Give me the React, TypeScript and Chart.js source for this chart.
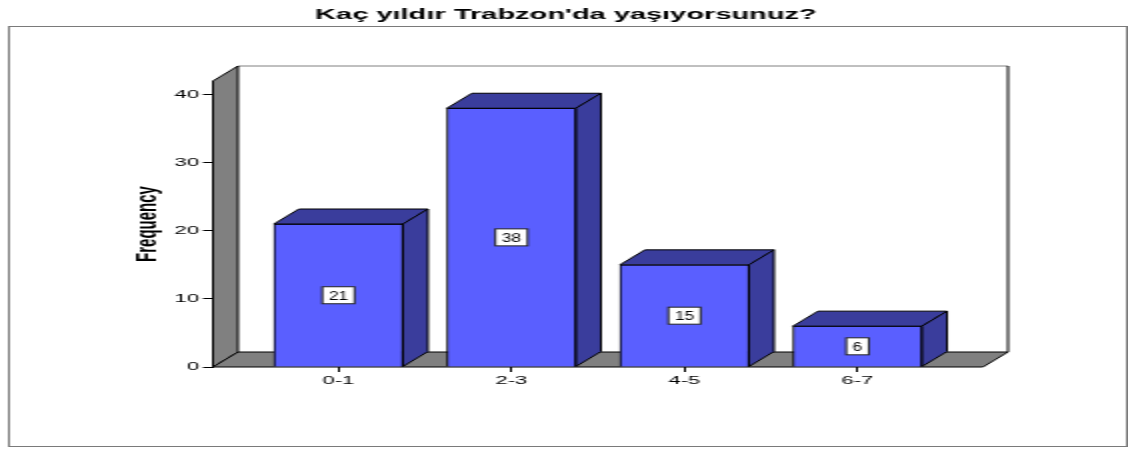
import React, { useEffect, useRef } from "react";
import { Chart, registerables } from "chart.js";

Chart.register(...registerables);

// ---- data ----
const categories = ["0-1", "2-3", "4-5", "6-7"];
const frequencies = [21, 38, 15, 6];
const yTickValues = [0, 10, 20, 30, 40];
const chartTitle = "Kaç yıldır Trabzon'da yaşıyorsunuz?";
const yAxisTitle = "Frequency";

// ---- style ----
const W = 564; // drawn at half width, then stretched 2x horizontally (like the original)
const H = 449;
const DX = 12.5;
const DY = 15;
const FRONT = "#5A5FFF";
const SIDE = "#3A3D9C";
const WALL = "#808080";
const FONT = "'Liberation Sans', Arial, Helvetica, sans-serif";
const SQUEEZE = 0.72;

const spss3d = {
  id: "spss3d",
  beforeDraw(chart: any) {
    const ctx = chart.ctx;
    ctx.save();
    ctx.fillStyle = "#fff";
    ctx.fillRect(0, 0, chart.width, chart.height);
    // outer frame
    ctx.strokeStyle = "#7a7a7a";
    ctx.lineWidth = 1;
    ctx.strokeRect(4.5, 26.5, 559, 420);
    // title
    ctx.fillStyle = "#000";
    ctx.font = `bold 14.5px ${FONT}`;
    ctx.textAlign = "center";
    ctx.textBaseline = "alphabetic";
    ctx.fillText(chartTitle, 283, 19);
    ctx.restore();
  },
  beforeDatasetsDraw(chart: any) {
    const ctx = chart.ctx;
    const { left, right, top, bottom } = chart.chartArea;
    ctx.save();
    ctx.lineWidth = 1;
    // back wall
    ctx.fillStyle = "#fff";
    ctx.fillRect(left + DX, top - DY, right - left, bottom - top);
    ctx.strokeStyle = WALL;
    ctx.beginPath();
    ctx.moveTo(left + DX, top - DY);
    ctx.lineTo(right + DX, top - DY);
    ctx.stroke();
    ctx.strokeStyle = "#000";
    ctx.beginPath();
    ctx.moveTo(right + DX, top - DY);
    ctx.lineTo(right + DX, bottom - DY);
    ctx.stroke();
    // left wall
    ctx.fillStyle = WALL;
    ctx.strokeStyle = "#000";
    ctx.beginPath();
    ctx.moveTo(left, bottom);
    ctx.lineTo(left + DX, bottom - DY);
    ctx.lineTo(left + DX, top - DY);
    ctx.lineTo(left, top);
    ctx.closePath();
    ctx.fill();
    ctx.stroke();
    // floor
    ctx.beginPath();
    ctx.moveTo(left, bottom);
    ctx.lineTo(right, bottom);
    ctx.lineTo(right + DX, bottom - DY);
    ctx.lineTo(left + DX, bottom - DY);
    ctx.closePath();
    ctx.fill();
    ctx.stroke();
    ctx.restore();
  },
  afterDatasetsDraw(chart: any) {
    const ctx = chart.ctx;
    const meta = chart.getDatasetMeta(0);
    ctx.save();
    ctx.lineWidth = 1;
    ctx.strokeStyle = "#000";
    meta.data.forEach((el: any, i: number) => {
      const { x, y, base, width } = el.getProps(["x", "y", "base", "width"], true);
      const l = x - width / 2;
      const r = x + width / 2;
      ctx.fillStyle = SIDE;
      // top
      ctx.beginPath();
      ctx.moveTo(l, y);
      ctx.lineTo(l + DX, y - DY);
      ctx.lineTo(r + DX, y - DY);
      ctx.lineTo(r, y);
      ctx.closePath();
      ctx.fill();
      ctx.stroke();
      // side
      ctx.beginPath();
      ctx.moveTo(r, y);
      ctx.lineTo(r + DX, y - DY);
      ctx.lineTo(r + DX, base - DY);
      ctx.lineTo(r, base);
      ctx.closePath();
      ctx.fill();
      ctx.stroke();
      // value label
      const txt = String(frequencies[i]);
      ctx.font = `12px ${FONT}`;
      const tw = ctx.measureText(txt).width * SQUEEZE;
      const bw = tw + 6.5;
      const bh = 17;
      const cy = (y + base) / 2;
      ctx.fillStyle = "#fff";
      ctx.fillRect(x - bw / 2, cy - bh / 2, bw, bh);
      ctx.strokeStyle = "#222";
      ctx.strokeRect(x - bw / 2, cy - bh / 2, bw, bh);
      ctx.save();
      ctx.translate(x, cy);
      ctx.scale(SQUEEZE, 1);
      ctx.fillStyle = "#000";
      ctx.textAlign = "center";
      ctx.textBaseline = "middle";
      ctx.fillText(txt, 0, 1);
      ctx.restore();
      ctx.strokeStyle = "#000";
    });
    ctx.restore();
  },
};

export default function App() {
  const canvasRef = useRef<HTMLCanvasElement | null>(null);

  useEffect(() => {
    const canvas = canvasRef.current;
    if (!canvas) return;
    const chart = new Chart(canvas, {
      type: "bar",
      data: {
        datasets: [
          {
            data: frequencies.map((v, i) => ({ x: i, y: v })),
            backgroundColor: FRONT,
            borderColor: "#000",
            borderWidth: 1,
            barThickness: 64.5,
          },
        ],
      },
      options: {
        animation: false,
        responsive: false,
        devicePixelRatio: 1,
        layout: { padding: { left: 60.75, right: 72.5, top: 81, bottom: 0 } },
        plugins: {
          legend: { display: false },
          tooltip: { enabled: false },
          title: { display: false },
        },
        scales: {
          x: {
            type: "linear",
            min: -0.725,
            max: 3.725,
            offset: false,
            afterFit: (s: any) => {
              s.height = 82;
            },
            afterBuildTicks: (s: any) => {
              s.ticks = categories.map((_, i) => ({ value: i }));
            },
            ticks: {
              autoSkip: false,
              maxRotation: 0,
              padding: 2,
              color: "#000",
              font: { size: 11, family: FONT },
              callback: (v: any) => categories[Math.round(Number(v))] ?? "",
            },
            grid: {
              display: true,
              offset: false,
              drawOnChartArea: false,
              drawTicks: true,
              tickLength: 5,
              color: "#000",
            },
            border: { display: false },
          },
          y: {
            type: "linear",
            min: 0,
            max: 42,
            afterFit: (s: any) => {
              s.width = 45.75;
            },
            afterBuildTicks: (s: any) => {
              s.ticks = yTickValues.map((v) => ({ value: v }));
            },
            ticks: {
              padding: 2,
              color: "#000",
              font: { size: 11, family: FONT },
            },
            grid: {
              display: true,
              drawOnChartArea: false,
              drawTicks: true,
              tickLength: 5,
              color: "#000",
            },
            border: { display: false },
            title: {
              display: true,
              text: yAxisTitle,
              color: "#000",
              font: { size: 15, weight: "bold", family: FONT },
              padding: { top: 4, bottom: 4 },
            },
          },
        },
      },
      plugins: [spss3d],
    });
    return () => chart.destroy();
  }, []);

  return (
    <div
      style={{
        position: "absolute",
        left: 0,
        top: 0,
        width: W,
        height: H,
        transform: "scaleX(2)",
        transformOrigin: "0 0",
      }}
    >
      <canvas
        ref={canvasRef}
        width={W}
        height={H}
        style={{ width: W + "px", height: H + "px", display: "block" }}
      />
    </div>
  );
}
